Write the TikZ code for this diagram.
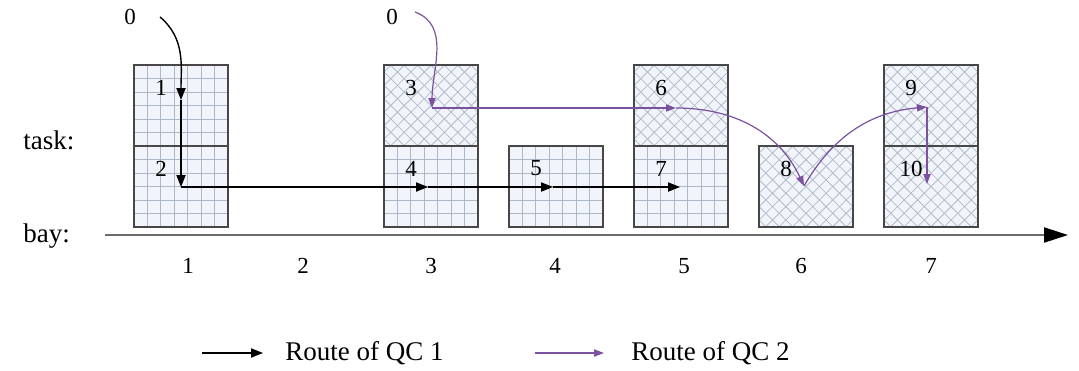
\documentclass[tikz,border=0pt]{standalone}
\usepackage{fontspec}
\setmainfont{Liberation Serif}
\usetikzlibrary{arrows.meta, positioning}

\definecolor{boxfill}{HTML}{F1F5FB}
\definecolor{gridline}{HTML}{AEB9C8}
\definecolor{hatchline}{HTML}{B4BCC8}
\definecolor{boxedge}{HTML}{474747}
\definecolor{routepurple}{HTML}{7A52A0}
\definecolor{axisgray}{HTML}{6A6A6A}

\begin{document}
\begin{tikzpicture}[x=0.5pt, y=-0.5pt, node distance=15.5pt,
  every node/.style={font=\fontsize{11.5}{13}\selectfont},
  task/.style={rectangle, draw=boxedge, line width=0.8pt, fill=boxfill,
    minimum width=47pt, minimum height=40.5pt, inner sep=0pt, outer sep=0pt},
  gridtask/.style={task, path picture={
    \foreach \i in {1,...,6}
      \draw[gridline, line width=0.4pt] ([xshift=\i*6.714pt]path picture bounding box.south west)
        -- ([xshift=\i*6.714pt]path picture bounding box.north west);
    \foreach \j in {1,...,5}
      \draw[gridline, line width=0.4pt] ([yshift=\j*6.75pt]path picture bounding box.south west)
        -- ([yshift=\j*6.75pt]path picture bounding box.south east);}},
  hatchtask/.style={task, path picture={
    \foreach \i in {-8,...,8} {
      \draw[hatchline, line width=0.4pt] ([xshift=\i*6.7pt]path picture bounding box.center)
        ++(-32pt,-32pt) -- ++(64pt,64pt);
      \draw[hatchline, line width=0.4pt] ([xshift=\i*6.7pt]path picture bounding box.center)
        ++(-32pt,32pt) -- ++(64pt,-64pt);}}},
  num/.style={inner sep=0pt},
  word/.style={inner sep=0pt, anchor=west, font=\fontsize{13.5}{15}\selectfont},
  qc1/.style={draw=black, line width=0.7pt, -{Triangle[length=6pt,width=4.6pt]}},
  qc2/.style={draw=routepurple, line width=0.6pt, -{Triangle[length=5pt,width=3.6pt]}}]

  \fill[white] (0,0) rectangle (1079,370);

  % tasks, stacked per bay
  \node[gridtask] (t2) at (181,186.5) {};
  \node[gridtask] (t1) [above=0pt of t2] {};
  \node[gridtask] (t4) [right=78pt of t2] {};
  \node[hatchtask] (t3) [above=0pt of t4] {};
  \node[gridtask] (t5) [right=of t4] {};
  \node[gridtask] (t7) [right=of t5] {};
  \node[hatchtask] (t6) [above=0pt of t7] {};
  \node[hatchtask] (t8) [right=of t7] {};
  \node[hatchtask] (t10) [right=of t8] {};
  \node[hatchtask] (t9) [above=0pt of t10] {};

  \foreach \t/\n in {t1/1, t2/2, t3/3, t4/4, t5/5, t6/6, t7/7, t8/8, t9/9, t10/10}
    \node[num] (n\n) at ([shift={(-20,-18)}]\t) {\n};

  \node[num] (o1) at (130,17) {0};
  \node[num] (o2) at (392,17) {0};

  % bay axis
  \node[word] (tasklbl) at (23,140) {task:};
  \node[word] (baylbl) at (23,236) {bay:};
  \coordinate (ax0) at (105,235);
  \coordinate (ax1) at (1068,235);
  \draw[axisgray, line width=1pt, -{Triangle[length=12pt,width=7.5pt,color=black,fill=black]}] (ax0) -- (ax1);
  \foreach \b/\x in {1/188, 2/303, 3/431, 4/555, 5/684, 6/801, 7/931}
    \node[num] (bay\b) at (\x,266) {\b};

  % route of QC 1
  \coordinate (s1) at (160,17);
  \coordinate (q1) at (181,100);
  \coordinate (q2) at (181,187);
  \coordinate (q4) at (428,187);
  \coordinate (q5) at (553,187);
  \coordinate (q7) at (680,187);
  \draw[qc1] (s1) to[out=-40, in=90] (q1);
  \draw[qc1] (q1) -- (q2);
  \draw[qc1] (q2) -- (q4);
  \draw[qc1] (q4) -- (q5);
  \draw[qc1] (q5) -- (q7);

  % route of QC 2
  \coordinate (s2) at (415,12);
  \coordinate (q3) at (432,108);
  \coordinate (q6) at (676,108);
  \coordinate (q8) at (804,186);
  \coordinate (q9) at (927,107);
  \coordinate (q10) at (927,184);
  \draw[qc2] (s2) to[out=-20, in=90] (q3);
  \draw[qc2] (q3) -- (q6);
  \draw[qc2] (q6) to[out=0, in=115] (q8);
  \draw[qc2] (q8) to[out=60, in=185] (q9);
  \draw[qc2] (q9) -- (q10);

  % legend
  \coordinate (k1a) at (202,353);
  \coordinate (k1b) at (263,353);
  \coordinate (k2a) at (535,353);
  \coordinate (k2b) at (604,353);
  \draw[qc1] (k1a) -- (k1b);
  \draw[qc2] (k2a) -- (k2b);
  \node[word] (leg1) at (285,353) {Route of QC 1};
  \node[word] (leg2) at (631,353) {Route of QC 2};
\end{tikzpicture}
\end{document}
